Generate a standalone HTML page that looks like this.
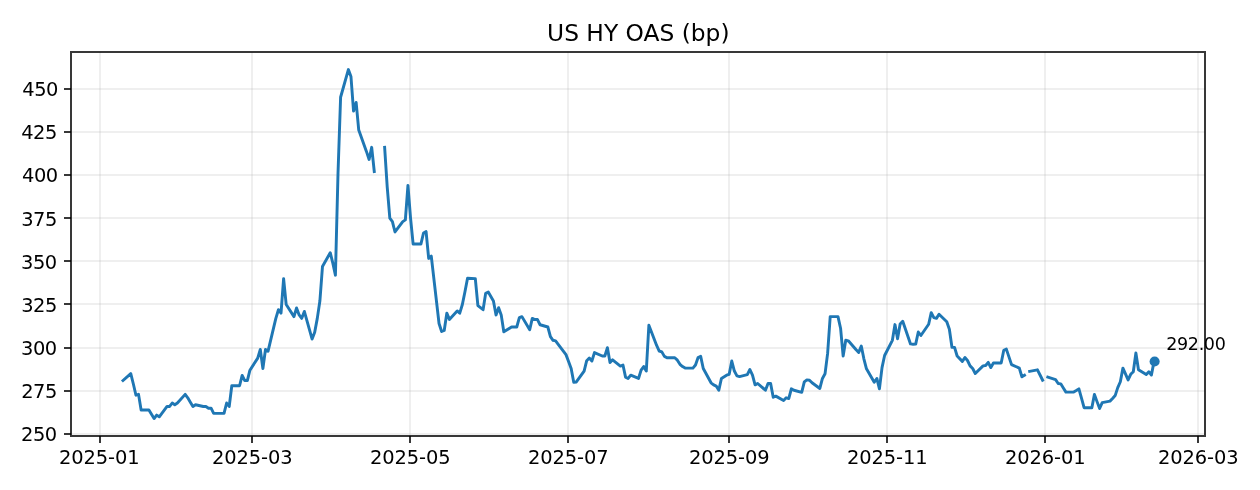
<!DOCTYPE html>
<html lang="en"><head><meta charset="utf-8"><title>US HY OAS (bp)</title>
<style>html,body{margin:0;padding:0;background:#fff}svg{display:block}text{font-family:"DejaVu Sans","Liberation Sans",sans-serif;fill:#000}.tk{font-size:19.44px}.ti{font-size:23.33px}.an{font-size:17.5px}</style></head><body>
<svg width="1260" height="490" viewBox="0 0 1260 490">
<rect width="1260" height="490" fill="#fff"/>
<g fill="#b0b0b0" fill-opacity=".2" shape-rendering="crispEdges">
<rect x="99" y="52" width="2" height="384"/>
<rect x="251" y="52" width="2" height="384"/>
<rect x="409" y="52" width="2" height="384"/>
<rect x="567" y="52" width="2" height="384"/>
<rect x="728" y="52" width="2" height="384"/>
<rect x="886" y="52" width="2" height="384"/>
<rect x="1044" y="52" width="2" height="384"/>
<rect x="1197" y="52" width="2" height="384"/>
<rect x="71" y="433" width="1134" height="2"/>
<rect x="71" y="390" width="1134" height="2"/>
<rect x="71" y="347" width="1134" height="2"/>
<rect x="71" y="303" width="1134" height="2"/>
<rect x="71" y="260" width="1134" height="2"/>
<rect x="71" y="217" width="1134" height="2"/>
<rect x="71" y="174" width="1134" height="2"/>
<rect x="71" y="131" width="1134" height="2"/>
<rect x="71" y="88" width="1134" height="2"/>
</g>
<g fill="#000" fill-opacity=".78" shape-rendering="crispEdges">
<rect x="99" y="436" width="2" height="7"/>
<rect x="251" y="436" width="2" height="7"/>
<rect x="409" y="436" width="2" height="7"/>
<rect x="567" y="436" width="2" height="7"/>
<rect x="728" y="436" width="2" height="7"/>
<rect x="886" y="436" width="2" height="7"/>
<rect x="1044" y="436" width="2" height="7"/>
<rect x="1197" y="436" width="2" height="7"/>
<rect x="64" y="433" width="7" height="2"/>
<rect x="64" y="390" width="7" height="2"/>
<rect x="64" y="347" width="7" height="2"/>
<rect x="64" y="303" width="7" height="2"/>
<rect x="64" y="260" width="7" height="2"/>
<rect x="64" y="217" width="7" height="2"/>
<rect x="64" y="174" width="7" height="2"/>
<rect x="64" y="131" width="7" height="2"/>
<rect x="64" y="88" width="7" height="2"/>
</g>
<g fill="none" stroke="#1f77b4" stroke-width="2.92" stroke-linejoin="round" stroke-linecap="square">
<polyline points="123.00,380.55 130.77,373.64 133.36,384.00 135.95,395.23 138.54,394.37 141.13,409.92 148.91,409.92 151.50,414.23 154.09,418.55 156.68,415.10 159.27,416.83 167.04,406.46 169.63,406.46 172.22,403.00 174.81,404.73 177.40,403.00 185.17,394.37 187.76,397.82 190.35,402.14 192.94,406.46 195.53,404.73 203.31,406.46 205.90,406.46 208.49,408.19 211.08,408.19 213.67,413.37 221.44,413.37 224.03,413.37 226.62,403.00 229.21,406.46 231.80,385.73 239.57,385.73 242.16,375.37 244.75,380.55 247.34,380.55 249.93,370.18 257.71,358.09 260.30,349.45 262.89,368.46 265.48,349.45 268.07,351.18 275.84,318.36 278.43,309.72 281.02,313.18 283.61,278.62 286.20,304.54 293.97,316.63 296.56,307.99 299.15,314.90 301.74,318.36 304.34,311.45 312.11,339.09 314.70,332.18 317.29,318.36 319.88,301.08 322.47,266.53 330.24,252.71 332.83,263.08 335.42,275.17 338.01,173.25 340.60,97.24 348.37,69.60 350.96,76.51 353.55,111.06 356.14,102.42 358.74,130.06 366.51,151.65 369.10,159.43 371.69,147.34 374.28,171.52"/>
<polyline points="384.64,147.34 387.23,187.07 389.82,218.16 392.41,221.62 395.00,231.98 402.77,221.62 405.36,219.89 407.95,185.34 410.55,218.16 413.14,244.08 420.91,244.08 423.50,233.02 426.09,231.64 428.68,258.41 431.27,256.17 439.04,323.54 441.63,331.49 444.22,330.45 446.81,313.18 449.40,319.39 457.17,310.93 459.76,313.18 462.36,304.54 464.95,291.75 467.54,278.28 475.31,278.62 477.90,305.57 480.49,307.65 483.08,309.72 485.67,293.31 488.26,292.10 493.44,301.08 496.03,314.90 498.62,307.65 501.21,314.90 503.80,331.83 511.57,327.00 514.17,327.00 516.76,327.00 519.35,317.67 521.94,316.63 529.71,329.76 532.30,318.36 534.89,319.57 537.48,319.57 540.07,324.75 547.84,327.00 550.43,336.67 553.02,340.30 555.61,340.82 558.20,344.27 565.98,354.63 568.57,361.55 571.16,368.46 573.75,382.28 576.34,381.93 584.11,371.05 586.70,360.68 589.29,358.09 591.88,361.03 594.47,352.56 602.24,356.02 604.83,356.02 607.42,347.73 610.01,362.58 612.60,359.82 620.38,366.04 622.97,365.00 625.56,377.09 628.15,378.47 630.74,375.19 638.51,378.47 641.10,370.18 643.69,366.55 646.28,371.05 648.87,325.27 656.64,345.48 659.23,351.01 661.82,351.87 664.41,356.36 667.00,357.74 674.78,357.74 677.37,360.16 679.96,364.31 682.55,366.55 685.14,368.11 692.91,368.11 695.50,365.00 698.09,357.57 700.68,356.36 703.27,368.46 711.04,382.79 713.63,384.87 716.22,386.08 718.82,390.22 721.41,378.47 726.59,375.19 729.18,374.33 731.77,361.03 734.36,371.05 736.95,375.88 739.54,376.57 747.31,374.67 749.90,369.49 752.49,375.19 755.08,384.87 757.67,383.48 765.44,390.22 768.03,383.48 770.62,383.48 773.22,397.30 775.81,396.10 783.58,400.41 786.17,397.82 788.76,398.51 791.35,388.84 793.94,390.22 801.71,392.29 804.30,381.93 806.89,379.86 809.48,380.20 812.07,382.79 819.84,388.49 822.44,378.47 825.03,373.81 827.62,353.43 830.21,316.63 837.98,316.63 840.57,328.20 843.16,356.02 845.75,340.30 848.34,340.82 856.11,349.80 858.70,352.39 861.29,346.00 863.88,358.78 866.47,368.80 874.25,382.28 876.84,378.47 879.43,388.84 882.02,367.59 884.61,355.50 892.38,340.30 894.97,324.58 897.56,338.74 900.15,324.06 902.74,321.29 910.51,343.92 913.10,344.27 915.69,344.10 918.28,332.00 920.87,335.46 928.65,324.23 931.24,312.66 933.83,317.67 936.42,318.36 939.01,314.21 946.78,321.81 949.37,329.24 951.96,347.21 954.55,347.38 957.14,356.02 962.32,361.37 964.91,357.57 967.50,360.51 970.09,365.86 972.68,368.46 975.27,373.46 983.05,365.86 985.64,365.52 988.23,362.41 990.82,367.59 993.41,362.93 1001.18,362.93 1003.77,350.32 1006.36,349.11 1008.95,356.88 1011.54,364.65 1019.31,368.11 1021.90,376.75 1024.49,375.19"/>
<polyline points="1029.67,371.39 1037.45,369.84 1040.04,375.02 1042.63,380.20"/>
<polyline points="1047.81,377.09 1055.58,379.68 1058.17,383.48 1060.76,383.83 1063.35,387.98 1065.94,392.12 1073.71,392.12 1076.30,390.57 1078.89,388.84 1081.49,398.17 1084.08,407.67 1091.85,407.67 1094.44,394.37 1097.03,401.62 1099.62,408.53 1102.21,402.66 1109.98,401.10 1112.57,398.51 1115.16,395.58 1117.75,387.63 1120.34,381.76 1122.93,368.11 1128.11,379.86 1130.70,374.33 1133.30,371.74 1135.89,352.91 1138.48,369.66 1146.25,374.50 1148.84,371.74 1151.43,375.02 1154.02,361.55"/>
</g>
<circle cx="1154.62" cy="361.55" r="5.05" fill="#1f77b4"/>
<g fill="#000" fill-opacity=".78" shape-rendering="crispEdges">
<path d="M70 51H1206V437H70Z M72 53V435H1204V53Z" fill-rule="evenodd"/>
</g>
<g class="tk" text-anchor="middle" style="letter-spacing:-0.13px">
<text x="99.25" y="464">2025-01</text>
<text x="252.25" y="464">2025-03</text>
<text x="410.25" y="464">2025-05</text>
<text x="568.25" y="464">2025-07</text>
<text x="729.25" y="464">2025-09</text>
<text x="887.25" y="464">2025-11</text>
<text x="1045.25" y="464">2026-01</text>
<text x="1198.25" y="464">2026-03</text>
</g>
<g class="tk" text-anchor="end" style="letter-spacing:-0.5px">
<text x="56.68" y="441">250</text>
<text x="56.80" y="398">275</text>
<text x="56.68" y="355">300</text>
<text x="56.80" y="312">325</text>
<text x="56.68" y="269">350</text>
<text x="56.80" y="226">375</text>
<text x="57.68" y="182">400</text>
<text x="56.80" y="139">425</text>
<text x="57.98" y="96">450</text>
</g>
<text class="ti" text-anchor="middle" x="638.3" y="41">US HY OAS (bp)</text>
<text class="an" style="letter-spacing:-0.35px" x="1166.29" y="350">292.00</text>
</svg></body></html>
